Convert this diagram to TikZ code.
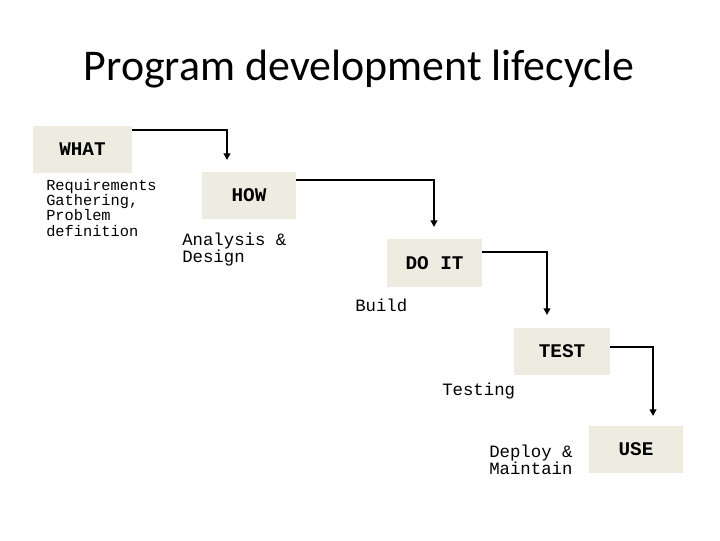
\documentclass[tikz,border=0pt]{standalone}
\usepackage{fontspec}
\setmainfont{Carlito}
\newfontfamily\monof{Liberation Mono}
\usetikzlibrary{arrows.meta,calc}
\definecolor{boxfill}{HTML}{EEECE1}
\begin{document}
\begin{tikzpicture}[x=0.75pt,y=-0.75pt,
  stage/.style={fill=boxfill,draw=none,inner sep=0pt,minimum height=35.25pt,
    font=\monof\bfseries\fontsize{14.5}{16}\selectfont},
  note/.style={inner sep=0pt,anchor=base west,align=left,
    font=\monof\fontsize{13}{12.75}\selectfont},
  flow/.style={line width=1.5pt,-{Triangle[length=5pt,width=5pt]}}]
\useasboundingbox (0,0) rectangle (720,540);
\node[anchor=base,inner sep=0pt,font=\fontsize{32.9}{38}\selectfont] (title) at (359,80) {Program development lifecycle};
\node[stage,minimum width=74.25pt] (what) at (82.5,149.5) {WHAT};
\node[stage,minimum width=70.5pt] (how) at (249,195) {HOW};
\node[stage,minimum width=71.25pt,minimum height=36pt] (doit) at (434.5,263) {DO IT};
\node[stage,minimum width=72pt] (test) at (562,351.5) {TEST};
\node[stage,minimum width=70.5pt] (use) at (636,449.5) {USE};
\node[note,font=\monof\fontsize{11.5}{11.5}\selectfont] (req) at (46,236) {Requirements\\Gathering,\\Problem\\definition};
\node[note] (ana) at (182,262) {Analysis \&\\Design};
\node[note] (build) at (355,311) {Build};
\node[note] (testing) at (442,395) {Testing};
\node[note] (deploy) at (489,474) {Deploy \&\\Maintain};
\coordinate (e1) at (227,160);
\coordinate (e2) at (434,227);
\coordinate (e3) at (547,315);
\coordinate (e4) at (653,416);
\draw[flow] ($(what.north east)+(0,4)$) -| (e1);
\draw[flow] ($(how.north east)+(0,9)$) -| (e2);
\draw[flow] ($(doit.north east)+(0,13)$) -| (e3);
\draw[flow] ($(test.north east)+(0,19)$) -| (e4);
\end{tikzpicture}
\end{document}
